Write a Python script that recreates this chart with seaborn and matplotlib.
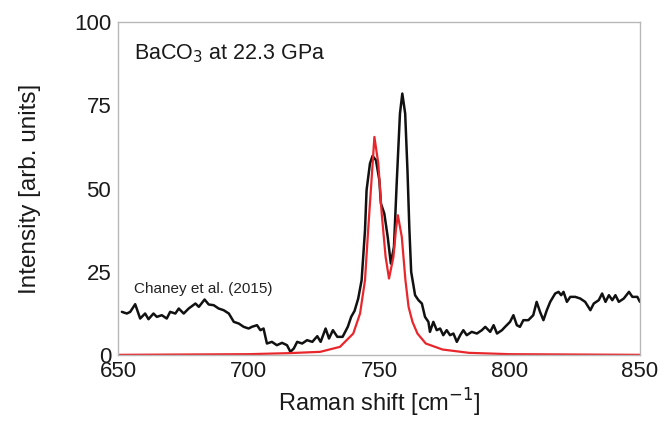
import numpy as np
import pandas as pd
import matplotlib
matplotlib.use("Agg")
import matplotlib.pyplot as plt
import seaborn as sns

# Measured Raman spectrum (black)
measured_shift = [
    651.4, 653.3, 654.6, 656.5, 658.4, 660.3, 661.6, 663.5, 664.8, 666.7,
    668.6, 669.9, 671.9, 673.2, 675.1, 677.0, 679.6, 680.9, 683.1, 684.7,
    686.6, 688.5, 690.4, 692.4, 694.3, 696.2, 698.1, 700.0, 701.2, 703.2,
    704.5, 705.7, 707.0, 708.9, 710.8, 712.8, 714.7, 716.0, 717.3, 718.6,
    720.5, 722.4, 724.4, 726.3, 727.6, 729.5, 730.8, 732.3, 734.0, 736.0,
    738.0, 739.3, 740.6, 742.0, 743.3, 744.6, 745.2, 746.5, 747.5, 748.8,
    750.1, 750.7, 752.0, 753.3, 754.5, 755.7, 756.8, 758.0, 758.9, 760.0,
    760.9, 761.6, 762.3, 763.8, 765.1, 766.4, 767.6, 768.9, 769.5, 770.8,
    772.1, 773.4, 774.6, 775.9, 777.2, 778.5, 779.8, 781.1, 782.3, 783.6,
    785.5, 787.5, 789.4, 790.7, 792.6, 793.9, 795.2, 797.1, 798.3, 800.2,
    801.5, 802.8, 804.0, 805.3, 807.2, 809.1, 810.4, 811.7, 813.0, 814.3,
    815.6, 817.5, 818.8, 819.8, 820.7, 822.0, 823.3, 825.2, 827.1, 829.0,
    831.0, 832.3, 834.2, 835.5, 836.8, 838.1, 839.4, 840.6, 841.9, 843.8,
    845.8, 847.1, 849.0, 850.0,
]
measured_intensity = [
    13.0, 12.5, 13.0, 15.3, 11.0, 12.5, 10.8, 12.5, 11.5, 12.0,
    11.0, 13.0, 12.5, 14.0, 12.5, 14.0, 15.5, 14.5, 16.7, 15.2,
    15.0, 14.0, 13.5, 12.5, 10.0, 9.5, 8.5, 8.0, 8.5, 9.0,
    7.5, 8.0, 3.5, 4.0, 3.0, 3.7, 3.0, 1.0, 2.0, 4.0,
    3.5, 4.5, 4.0, 5.7, 4.0, 8.0, 5.0, 7.5, 5.5, 5.5,
    8.5, 11.5, 13.3, 17.0, 22.5, 37.5, 49.5, 57.5, 59.8, 58.5,
    52.5, 45.5, 42.5, 35.5, 27.5, 32.5, 52.5, 72.5, 78.5, 72.5,
    55.0, 38.0, 25.0, 18.0, 16.5, 15.5, 11.5, 10.0, 7.0, 10.0,
    7.5, 8.0, 6.0, 7.5, 6.0, 6.5, 4.0, 6.0, 7.5, 6.0,
    7.0, 6.5, 7.5, 8.5, 7.0, 9.0, 6.5, 7.5, 8.5, 10.0,
    12.0, 9.0, 8.5, 10.5, 10.5, 12.0, 16.0, 13.0, 10.5, 13.5,
    16.0, 18.5, 19.0, 18.0, 19.0, 16.0, 17.5, 17.5, 17.0, 16.0,
    13.5, 15.5, 16.5, 18.5, 16.0, 18.0, 16.5, 18.0, 16.0, 17.0,
    19.0, 17.5, 17.5, 16.0,
]

# Calculated spectrum (red)
calc_shift = [
    650.0, 700.0, 715.0, 727.4, 735.0, 740.1, 742.7, 744.6, 745.8, 747.1,
    748.2, 749.7, 751.0, 752.5, 753.8, 755.5, 756.5, 757.2, 758.7, 760.1,
    761.3, 762.8, 764.7, 767.9, 774.3, 784.5, 800.0, 850.0,
]
calc_intensity = [
    0.1, 0.3, 0.6, 1.0, 2.5, 6.5, 12.5, 22.5, 37.5, 52.5,
    65.5, 57.5, 42.5, 29.5, 23.0, 29.5, 38.0, 42.0, 35.5, 22.5,
    14.5, 10.0, 6.5, 3.5, 1.7, 0.7, 0.3, 0.1,
]

x_ticks = [650, 700, 750, 800, 850]
y_ticks = [0, 25, 50, 75, 100]

measured = pd.DataFrame({"shift": measured_shift, "intensity": measured_intensity})
calc = pd.DataFrame({"shift": calc_shift, "intensity": calc_intensity})

sns.set_theme(style="white")
plt.rcParams["font.family"] = ["Liberation Sans", "DejaVu Sans"]

fig = plt.figure(figsize=(6.68, 4.30), dpi=100)
ax = fig.add_axes([0.177, 0.174, 0.781, 0.775])

sns.lineplot(data=measured, x="shift", y="intensity", ax=ax,
             color="#111111", linewidth=1.8)
sns.lineplot(data=calc, x="shift", y="intensity", ax=ax,
             color="#e8262c", linewidth=1.6)

ax.set_xlim(650, 850)
ax.set_ylim(0, 100)
ax.set_xticks(x_ticks)
ax.set_yticks(y_ticks)
ax.tick_params(axis="both", labelsize=16, direction="in", length=3,
               color="#a0a0a0", labelcolor="#1a1a1a")
ax.tick_params(axis="x", pad=4)
ax.tick_params(axis="y", pad=5)

for side in ax.spines.values():
    side.set_color("#b8b8b8")
    side.set_linewidth(1.0)

ax.set_xlabel("Raman shift [cm$^{-1}$]", fontsize=17, labelpad=4,
              color="#1a1a1a")
ax.set_ylabel("Intensity [arb. units]", fontsize=17.5, labelpad=24,
              color="#1a1a1a")

ax.text(0.03, 0.905, "BaCO$_3$ at 22.3 GPa", transform=ax.transAxes,
        fontsize=15.5, va="center", ha="left", color="#1a1a1a")
ax.text(0.03, 0.20, "Chaney et al. (2015)", transform=ax.transAxes,
        fontsize=11, va="center", ha="left", color="#222222")

fig.savefig("out.png", dpi=100)
